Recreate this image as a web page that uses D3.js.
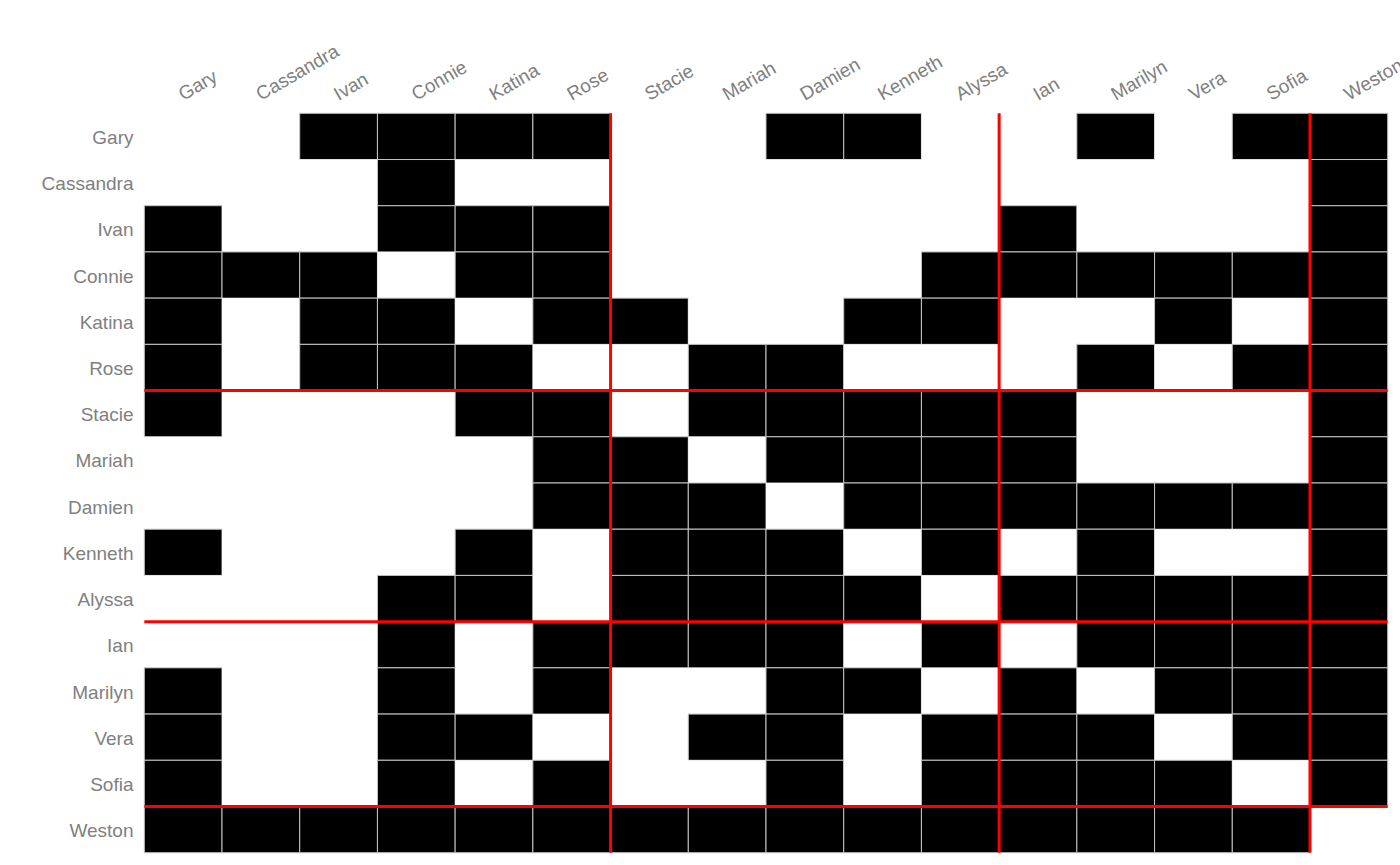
<!DOCTYPE html>
<html>
<head>
<meta charset="utf-8">
<script src="https://cdn.jsdelivr.net/npm/d3@7"></script>
<style>
  html, body { margin: 0; padding: 0; background: #fff; }
  svg { display: block; }
</style>
</head>
<body>
<svg id="chart" width="1400" height="865"></svg>
<script>
const names = ["Gary","Cassandra","Ivan","Connie","Katina","Rose","Stacie","Mariah","Damien","Kenneth","Alyssa","Ian","Marilyn","Vera","Sofia","Weston"];
const groups = [0,0,0,0,0,0,1,1,1,1,1,2,2,2,2,3];
const matrix = [
  [0,0,1,1,1,1,0,0,1,1,0,0,1,0,1,1], // Gary
  [0,0,0,1,0,0,0,0,0,0,0,0,0,0,0,1], // Cassandra
  [1,0,0,1,1,1,0,0,0,0,0,1,0,0,0,1], // Ivan
  [1,1,1,0,1,1,0,0,0,0,1,1,1,1,1,1], // Connie
  [1,0,1,1,0,1,1,0,0,1,1,0,0,1,0,1], // Katina
  [1,0,1,1,1,0,0,1,1,0,0,0,1,0,1,1], // Rose
  [1,0,0,0,1,1,0,1,1,1,1,1,0,0,0,1], // Stacie
  [0,0,0,0,0,1,1,0,1,1,1,1,0,0,0,1], // Mariah
  [0,0,0,0,0,1,1,1,0,1,1,1,1,1,1,1], // Damien
  [1,0,0,0,1,0,1,1,1,0,1,0,1,0,0,1], // Kenneth
  [0,0,0,1,1,0,1,1,1,1,0,1,1,1,1,1], // Alyssa
  [0,0,0,1,0,1,1,1,1,0,1,0,1,1,1,1], // Ian
  [1,0,0,1,0,1,0,0,1,1,0,1,0,1,1,1], // Marilyn
  [1,0,0,1,1,0,0,1,1,0,1,1,1,0,1,1], // Vera
  [1,0,0,1,0,1,0,0,1,0,1,1,1,1,0,1], // Sofia
  [1,1,1,1,1,1,1,1,1,1,1,1,1,1,1,0]  // Weston
];

const svg = d3.select("#chart");
const x = d3.scaleBand().domain(names).range([144.3, 1387.7]).padding(0);
const y = d3.scaleBand().domain(names).range([113.3, 852.7]).padding(0);

const cells = [];
matrix.forEach((row, i) => row.forEach((v, j) => cells.push({ r: names[i], c: names[j], v })));

svg.append("g").selectAll("rect")
  .data(cells)
  .join("rect")
  .attr("x", d => x(d.c))
  .attr("y", d => y(d.r))
  .attr("width", x.bandwidth())
  .attr("height", y.bandwidth())
  .attr("fill", d => d.v ? "#000" : "#fff")
  .attr("stroke", d => d.v ? "#c4c4c4" : "none")
  .attr("stroke-width", 1);

// group boundaries
const bounds = [];
for (let i = 1; i < names.length; i++) if (groups[i] !== groups[i - 1]) bounds.push(names[i]);

const lines = svg.append("g");
lines.selectAll("line.v").data(bounds).join("line")
  .attr("class", "v")
  .attr("x1", d => x(d)).attr("x2", d => x(d))
  .attr("y1", y.range()[0]).attr("y2", y.range()[1])
  .attr("stroke", "#ff0000").attr("stroke-width", 3);
lines.selectAll("line.h").data(bounds).join("line")
  .attr("class", "h")
  .attr("y1", d => y(d)).attr("y2", d => y(d))
  .attr("x1", x.range()[0]).attr("x2", x.range()[1])
  .attr("stroke", "#ff0000").attr("stroke-width", 3);

const font = "'Liberation Sans', Arial, sans-serif";

svg.append("g").selectAll("text")
  .data(names)
  .join("text")
  .attr("x", 133.5)
  .attr("y", d => y(d) + y.bandwidth() / 2)
  .attr("dy", "0.4em")
  .attr("text-anchor", "end")
  .attr("font-family", font)
  .attr("font-size", 19)
  .attr("fill", "#808080")
  .text(d => d);

svg.append("g").selectAll("text")
  .data(names)
  .join("text")
  .attr("transform", d => `translate(${x(d) + x.bandwidth() / 2},101) rotate(-30)`)
  .attr("text-anchor", "start")
  .attr("font-family", font)
  .attr("font-size", 19)
  .attr("fill", "#808080")
  .text(d => d);
</script>
</body>
</html>
